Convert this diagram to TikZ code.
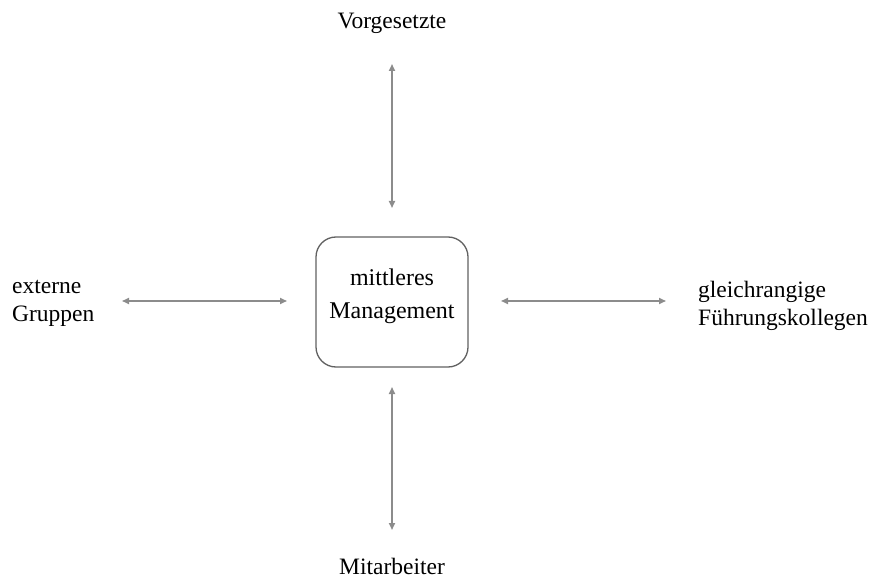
\documentclass[tikz,border=0pt]{standalone}
\usepackage{fontspec}
\setmainfont{Liberation Serif}
\usetikzlibrary{arrows.meta}
\begin{document}
\begin{tikzpicture}[x=1pt,y=-1pt,
  label text/.style={inner sep=0pt, font=\fontsize{23.5}{28}\selectfont},
  centre box/.style={draw=black!62, line width=1.3pt, rounded corners=20pt,
    minimum width=152pt, minimum height=130pt},
  box text/.style={inner sep=0pt, align=center, font=\fontsize{24}{33}\selectfont},
  link/.style={draw=black!45, line width=1.6pt,
    {Triangle[length=7pt,width=6pt]}-{Triangle[length=7pt,width=6pt]}}]
  \useasboundingbox (0,0) rectangle (876,580);

  % central box and its caption
  \node[centre box] (mm) at (392,302) {};
  \node[box text] (mmt) at (392,296) {mittleres\\Management};

  % surrounding groups
  \node[label text, anchor=base] (vg) at (392,29) {Vorgesetzte};
  \node[label text, anchor=base] (ma) at (392,574) {Mitarbeiter};
  \node[label text, align=left, anchor=west] (eg) at (12,303) {externe\\Gruppen};
  \node[label text, align=left, anchor=west] (fk) at (698,306) {gleichrangige\\Führungskollegen};

  % arrow end points
  \coordinate (t1) at (392,64);  \coordinate (t2) at (392,208);
  \coordinate (b1) at (392,387); \coordinate (b2) at (392,530);
  \coordinate (l1) at (122,301); \coordinate (l2) at (287,301);
  \coordinate (r1) at (501,301); \coordinate (r2) at (666,301);

  \draw[link] (t1) -- (t2);
  \draw[link] (b1) -- (b2);
  \draw[link] (l1) -- (l2);
  \draw[link] (r1) -- (r2);
\end{tikzpicture}
\end{document}
